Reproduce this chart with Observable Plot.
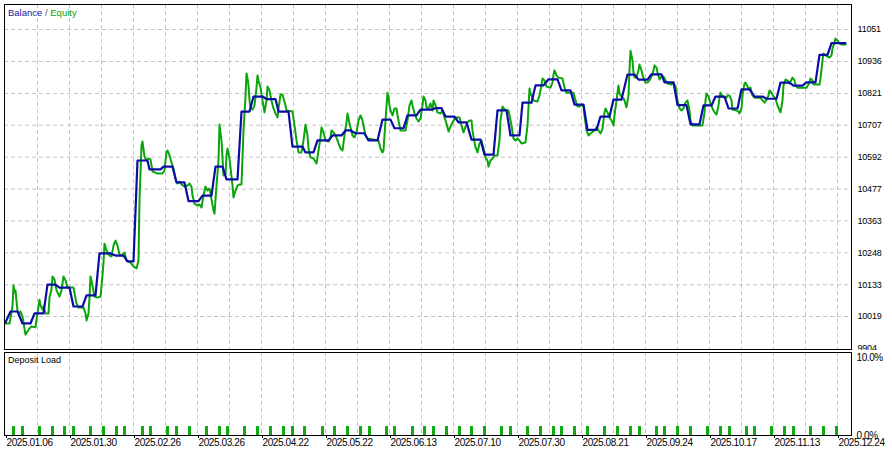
<!DOCTYPE html>
<html><head><meta charset="utf-8">
<script src="https://cdn.jsdelivr.net/npm/d3@7"></script>
<script src="https://cdn.jsdelivr.net/npm/@observablehq/plot@0.6"></script>
<style>
body{margin:0;background:#fff;}
#wrap{position:relative;width:892px;height:457px;overflow:hidden;background:#fff;font-family:"Liberation Sans",Arial,sans-serif;}
#main{position:absolute;left:0;top:0;}
#low{position:absolute;left:0;top:350px;}
.ttl{position:absolute;left:8px;top:8px;font-size:9.5px;line-height:1;white-space:nowrap;}
.dl{position:absolute;left:8px;top:356px;font-size:9px;line-height:1;color:#000;white-space:nowrap;}
#low svg text{letter-spacing:-0.4px;}
#main svg text{letter-spacing:-0.2px;}
</style></head>
<body>
<div id="wrap">
  <div id="main"></div>
  <div id="low"></div>
  <div class="ttl"><span style="color:#1a1aa0">Balance</span><span style="color:#555"> / </span><span style="color:#10a010">Equity</span></div>
  <div class="dl">Deposit Load</div>
</div>
<script>
// ---- data ----
const yTicks = [9904, 10019, 10133, 10248, 10363, 10477, 10592, 10707, 10821, 10936, 11051];
const gridSteps = [32,64,96,128,160,192,224,256,288,320,352,384,416,448,480,512,544,576,608,640,672,704,736,768,800,832];
const dateSteps = [0,64,128,192,256,320,384,448,512,576,640,704,768,832];
const dateLabels = ["2025.01.06","2025.01.30","2025.02.26","2025.03.26","2025.04.22","2025.05.22","2025.06.13","2025.07.10","2025.07.30","2025.08.21","2025.09.24","2025.10.17","2025.11.13","2025.12.24"];

const balanceStep = [0,5,12,17,25,29,38,42,50,54,
64,68,77,81,90,94,105,110,118,122,
128,132,142,144,155,158,167,171,179,183,
193,197,206,210,217,221,232,236,244,248,
257,261,270,273,283,287,297,300,308,312,
323,327,336,340,345,350,359,363,372,377,
385,389,398,402,411,415,426,430,436,440,
449,453,461,466,475,479,488,492,501,505,
514,517,526,530,538,543,552,556,565,569,
578,582,591,595,604,608,616,622,629,633,
642,646,656,659,668,672,681,685,694,698,
706,710,719,723,732,736,744,749,757,761,
771,775,784,788,797,801,810,814,822,826,
840];
const balanceValue = [9998,10037,10037,9994,9994,10030,10030,10134,10134,10123,
10123,10055,10055,10095,10095,10246,10246,10238,10238,10217,
10217,10580,10580,10548,10548,10558,10558,10501,10501,10434,
10434,10454,10454,10558,10558,10512,10512,10756,10756,10810,
10810,10801,10801,10756,10756,10630,10630,10609,10609,10652,
10652,10670,10670,10688,10688,10678,10678,10652,10652,10727,
10727,10696,10696,10742,10742,10763,10763,10768,10768,10738,
10738,10717,10717,10655,10655,10601,10601,10760,10760,10670,
10670,10788,10788,10850,10850,10872,10872,10832,10832,10781,
10781,10690,10690,10738,10738,10799,10799,10889,10889,10871,
10871,10890,10890,10861,10861,10779,10779,10710,10710,10778,
10778,10810,10810,10767,10767,10836,10836,10810,10810,10802,
10802,10860,10860,10849,10849,10861,10861,10960,10960,11002,
11002];

const equityStep = [0,4,7,8,9,10,12,14,15,17,
20,22,24,26,30,31,34,35,37,38,
40,43,44,46,47,49,51,54,56,58,
60,62,68,71,73,78,80,81,83,84,
85,87,89,92,95,97,98,99,101,104,
106,108,110,112,114,116,119,121,125,128,
131,133,134,136,137,139,141,143,145,147,
152,157,159,161,162,164,166,168,170,172,
174,176,179,182,184,186,187,189,192,194,
196,198,200,202,204,206,208,209,211,213,
214,215,216,217,218,220,221,222,224,225,
227,228,230,232,234,236,238,240,241,242,
243,244,245,247,249,251,252,253,255,257,
259,261,262,264,266,268,270,272,273,275,
277,280,281,287,289,291,293,296,298,300,
302,303,305,308,311,313,315,316,318,320,
323,325,326,328,330,332,335,337,339,341,
342,344,346,347,349,351,353,355,357,360,
362,373,375,377,378,380,382,383,384,385,
387,389,391,392,394,395,400,402,404,406,
407,409,411,413,415,417,418,420,421,423,
425,427,428,430,432,435,437,439,441,443,
445,447,450,454,456,458,460,462,464,466,
467,469,470,472,474,476,478,480,482,483,
485,487,489,492,494,495,497,499,503,506,
508,510,512,514,516,520,522,523,524,525,
528,532,534,536,537,539,541,545,547,548,
549,551,553,557,559,561,567,568,570,572,
574,576,578,579,581,583,585,589,591,593,
595,597,599,600,602,604,606,608,609,611,
613,614,616,618,619,621,623,624,625,627,
628,629,631,633,634,636,638,640,642,644,
646,648,649,651,652,654,656,658,660,662,
666,668,670,672,674,676,678,680,682,684,
685,687,697,699,700,701,703,705,707,709,
711,713,714,715,717,721,722,724,726,727,
731,733,734,736,737,739,740,742,743,745,
747,749,755,757,759,761,763,764,766,768,
770,772,774,775,777,778,780,782,784,786,
787,789,790,792,801,803,805,807,808,814,
815,817,818,820,824,826,827,829,830,832,
834,836,840];
const equityValue = [9994,9994,10055,10131,10105,10113,10037,10030,10037,10019,
9954,9965,9976,9983,9980,10008,10079,10059,10044,10055,
10030,10030,10087,10116,10163,10152,10113,10091,10113,10163,
10149,10123,10123,10066,10051,10051,10030,10005,10030,10087,
10163,10131,10091,10087,10091,10166,10213,10281,10256,10238,
10235,10274,10292,10274,10242,10238,10249,10220,10213,10199,
10192,10220,10436,10634,10648,10594,10580,10587,10584,10541,
10533,10533,10544,10612,10616,10598,10573,10551,10515,10497,
10504,10494,10486,10490,10497,10486,10454,10425,10418,10422,
10411,10454,10486,10472,10479,10440,10400,10389,10490,10580,
10709,10677,10652,10591,10526,10530,10598,10623,10587,10555,
10490,10447,10472,10490,10494,10494,10688,10810,10893,10875,
10850,10796,10771,10763,10778,10842,10886,10868,10842,10796,
10753,10796,10846,10832,10796,10767,10749,10735,10767,10817,
10817,10778,10760,10756,10706,10652,10609,10609,10652,10709,
10670,10623,10591,10587,10569,10616,10663,10699,10681,10652,
10648,10663,10688,10681,10670,10652,10623,10616,10670,10717,
10749,10713,10684,10670,10663,10681,10724,10742,10724,10670,
10659,10652,10623,10609,10616,10724,10824,10806,10778,10760,
10742,10767,10767,10742,10706,10688,10688,10724,10778,10796,
10778,10749,10731,10720,10731,10778,10810,10796,10771,10767,
10785,10760,10796,10778,10753,10749,10760,10735,10713,10684,
10702,10717,10735,10735,10706,10681,10702,10717,10724,10724,
10688,10645,10627,10609,10641,10652,10623,10591,10580,10558,
10580,10587,10598,10598,10652,10724,10774,10763,10760,10706,
10659,10652,10659,10652,10641,10645,10706,10771,10839,10821,
10796,10792,10814,10850,10875,10868,10846,10842,10860,10889,
10904,10886,10878,10875,10842,10824,10824,10824,10796,10774,
10774,10781,10774,10742,10688,10670,10677,10688,10699,10688,
10677,10695,10753,10767,10753,10735,10724,10706,10742,10796,
10850,10821,10810,10803,10796,10771,10814,10904,10975,10940,
10896,10878,10878,10904,10925,10904,10875,10860,10860,10868,
10882,10904,10922,10914,10896,10871,10882,10882,10868,10857,
10853,10860,10846,10796,10767,10760,10767,10788,10796,10760,
10724,10706,10706,10753,10796,10821,10810,10785,10767,10753,
10745,10778,10806,10824,10810,10806,10814,10814,10796,10763,
10760,10756,10749,10767,10814,10857,10860,10846,10839,10842,
10814,10806,10806,10796,10788,10799,10814,10832,10824,10810,
10803,10778,10760,10753,10796,10850,10871,10868,10857,10871,
10878,10868,10850,10842,10842,10853,10875,10868,10853,10853,
10875,10940,10965,10958,10950,10958,10983,11004,11019,11011,
11001,10997,10997];

const loadStep = [8,17,34,47,59,68,85,98,111,119,
137,145,162,171,184,201,214,222,239,252,
265,278,287,299,317,329,342,355,364,381,
389,407,419,428,441,454,466,479,496,505,
522,535,548,556,569,582,599,612,625,634,
651,659,672,685,702,715,724,741,749,766,
779,788,805,818,831];
const loadPct = [1.15,1.15,1.15,1.15,1.15,1.15,1.15,1.15,1.15,1.15,
1.15,1.15,1.15,1.15,1.15,1.15,1.15,1.15,1.15,1.15,
1.15,1.15,1.15,1.15,1.15,1.15,1.15,1.15,1.15,1.15,
1.15,1.15,1.15,1.15,1.15,1.15,1.15,1.15,1.15,1.15,
1.15,1.15,1.15,1.15,1.15,1.15,1.15,1.15,1.15,1.15,
1.15,1.15,1.15,1.15,1.15,1.15,1.15,1.15,1.15,1.15,
1.15,1.15,1.15,1.15,1.15];

// ---- tables ----
const balance = balanceStep.map((t, i) => ({t, v: balanceValue[i]}));
const equity = equityStep.map((t, i) => ({t, v: equityValue[i]}));
const load = loadStep.map((t, i) => ({t, p: loadPct[i]}));
const labelOf = new Map(dateSteps.map((d, i) => [d, dateLabels[i]]));

const BLUE = "#0c0ca6", GREEN = "#0aa50a", GRID = "#c4c4c4";
const xDomain = [-1, 846];

const main = Plot.plot({
  width: 892, height: 350,
  marginLeft: 4, marginRight: 41, marginTop: 4, marginBottom: 1,
  style: {fontFamily: "'Liberation Sans', Arial, sans-serif", fontSize: "9px", background: "transparent", color: "#000", overflow: "visible"},
  x: {domain: xDomain, axis: null, label: null},
  y: {domain: [9900.4, 11140.9], axis: null, label: null},
  marks: [
    Plot.gridX(gridSteps, {stroke: GRID, strokeOpacity: 1, strokeDasharray: "4,3"}),
    Plot.gridY(yTicks.slice(1), {stroke: GRID, strokeOpacity: 1, strokeDasharray: "4,3"}),
    Plot.line(equity, {x: "t", y: "v", stroke: GREEN, strokeWidth: 2, curve: "linear"}),
    Plot.line(balance, {x: "t", y: "v", stroke: BLUE, strokeWidth: 2.2, curve: "linear"}),
    Plot.frame({stroke: "#000", strokeWidth: 1}),
    Plot.axisY(yTicks, {anchor: "right", label: null, tickSize: 0, tickPadding: 6, tickFormat: d => String(d), fill: "#000"})
  ]
});
document.getElementById("main").appendChild(main);

const low = Plot.plot({
  width: 892, height: 107,
  marginLeft: 4, marginRight: 41, marginTop: 2, marginBottom: 22,
  style: {fontFamily: "'Liberation Sans', Arial, sans-serif", fontSize: "10px", background: "#fff", color: "#000", overflow: "visible"},
  x: {domain: xDomain, axis: null, label: null},
  y: {domain: [0, 10.64], axis: null, label: null},
  marks: [
    Plot.gridX(gridSteps, {stroke: GRID, strokeOpacity: 1, strokeDasharray: "4,3"}),
    Plot.ruleX(load, {x: "t", y1: 0, y2: "p", stroke: "#10aa10", strokeWidth: 3}),
    Plot.frame({stroke: "#000", strokeWidth: 1}),
    Plot.axisY([0, 10], {anchor: "right", label: null, tickSize: 0, tickPadding: 5, tickFormat: d => d.toFixed(1) + "%", fill: "#000"}),
    Plot.axisX(dateSteps, {anchor: "bottom", label: null, tickSize: 3, tickPadding: 0, textAnchor: "start", dx: 1, tickFormat: d => labelOf.get(d), fill: "#000", stroke: "#000"})
  ]
});
document.getElementById("low").appendChild(low);
</script>
</body></html>
